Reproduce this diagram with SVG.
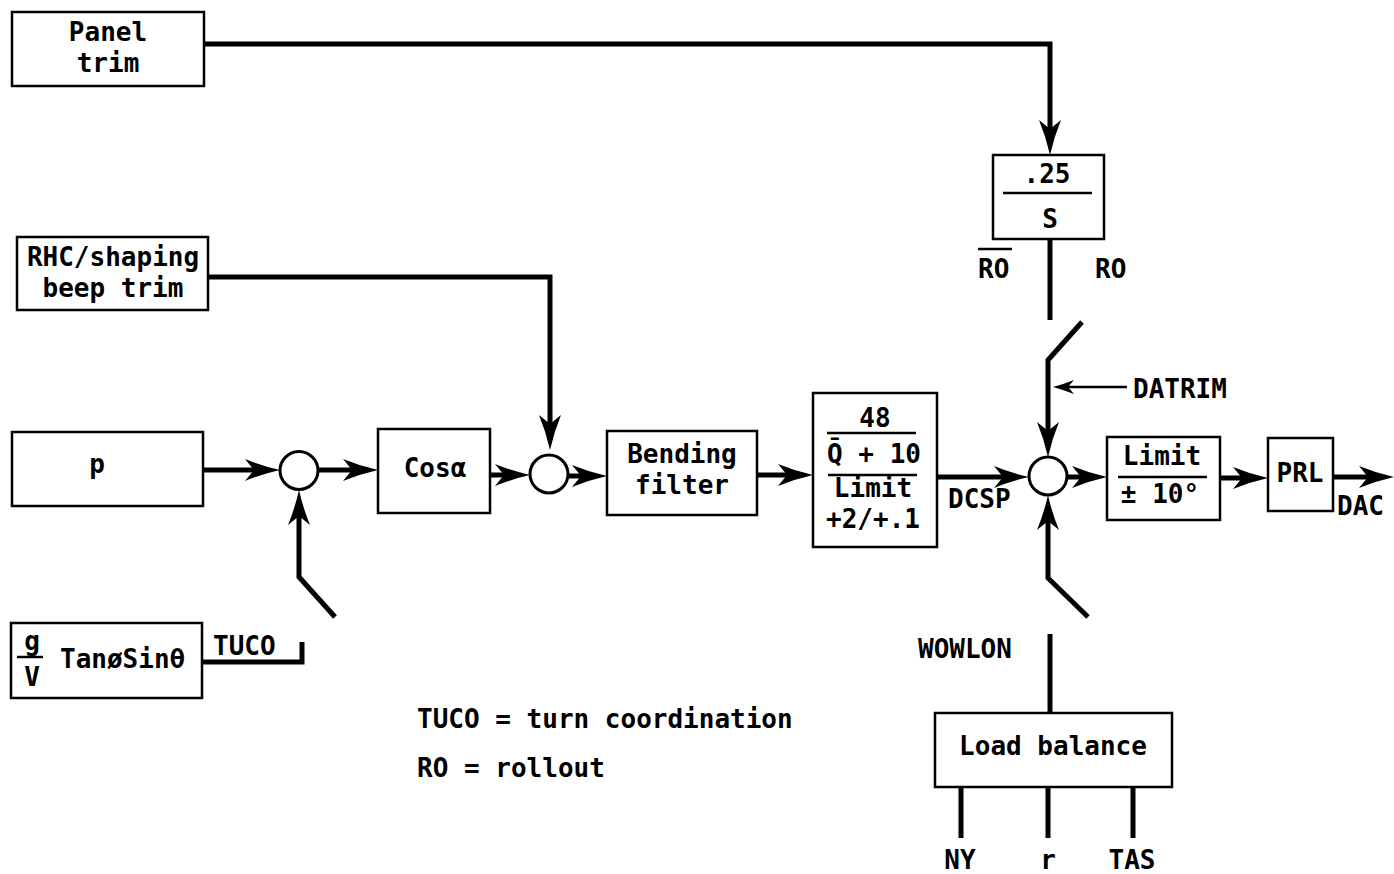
<svg xmlns="http://www.w3.org/2000/svg" width="1394" height="874" viewBox="0 0 1394 874">
<style>
.box{fill:#fff;stroke:#000;stroke-width:2.5}
.sum{fill:#fff;stroke:#000;stroke-width:3}
.ln{fill:none;stroke:#000;stroke-width:5;stroke-linejoin:miter}
.thin{fill:none;stroke:#000;stroke-width:2.5}
.bar{stroke:#000;stroke-width:2.5}
text{font-family:"DejaVu Sans Mono","Liberation Mono",monospace;font-weight:bold;font-size:26px;fill:#000}
.c{text-anchor:middle}
</style>
<defs>
<marker id="ah" markerUnits="userSpaceOnUse" viewBox="-24 -12 38 24" markerWidth="38" markerHeight="24" refX="0" refY="0" orient="auto">
<path d="M12,0 Q-6,-4 -23,-11 L-14,0 L-23,11 Q-6,4 12,0 Z" fill="#000"/>
</marker>
<marker id="ahs" markerUnits="userSpaceOnUse" viewBox="-14 -8 24 16" markerWidth="24" markerHeight="16" refX="0" refY="0" orient="auto">
<path d="M8,0 Q-3,-3 -13,-7 L-7,0 L-13,7 Q-3,3 8,0 Z" fill="#000"/>
</marker>
</defs>
<rect width="1394" height="874" fill="#fff"/>

<g id="connectors">
<path class="ln" d="M204,44 H1050 V143" marker-end="url(#ah)"/>
<path class="ln" d="M208,277 H550 V438" marker-end="url(#ah)"/>
<path class="ln" d="M203,470 H268" marker-end="url(#ah)"/>
<path class="ln" d="M318,470 H366" marker-end="url(#ah)"/>
<path class="ln" d="M202,662 H302 V642"/>
<path class="ln" d="M335,617 L299,577 V502" marker-end="url(#ah)"/>
<path class="ln" d="M490,475 H518" marker-end="url(#ah)"/>
<path class="ln" d="M568,476 H595" marker-end="url(#ah)"/>
<path class="ln" d="M757,475 H801" marker-end="url(#ah)"/>
<path class="ln" d="M937,477 H1017" marker-end="url(#ah)"/>
<path class="ln" d="M1067,477 H1095" marker-end="url(#ah)"/>
<path class="ln" d="M1220,478 H1256" marker-end="url(#ah)"/>
<path class="ln" d="M1333,477 H1382" marker-end="url(#ah)"/>
<path class="ln" d="M1050,239 V320"/>
<path class="ln" d="M1082,322 L1048,360 V445" marker-end="url(#ah)"/>
<path class="thin" d="M1127,387 H1061" marker-end="url(#ahs)"/>
<path class="ln" d="M1088,617 L1048,578 V507" marker-end="url(#ah)"/>
<path class="ln" d="M1050,634 V713"/>
<path class="ln" d="M961,787 V838"/>
<path class="ln" d="M1048,787 V838"/>
<path class="ln" d="M1133,787 V838"/>
</g>

<g id="panel-trim">
<rect class="box" x="12" y="12" width="192" height="74"/>
<text class="c" x="108" y="41">Panel</text>
<text class="c" x="108" y="72">trim</text>
</g>

<g id="rhc-trim">
<rect class="box" x="17" y="237" width="191" height="73"/>
<text class="c" x="113" y="266">RHC/shaping</text>
<text class="c" x="113" y="297">beep trim</text>
</g>

<g id="p-box">
<rect class="box" x="12" y="432" width="191" height="74"/>
<text class="c" x="97" y="473">p</text>
</g>

<g id="tuco-box">
<rect class="box" x="11" y="623" width="191" height="75"/>
<text class="c" x="32" y="650">g</text>
<line class="bar" x1="17" y1="657" x2="43" y2="657"/>
<text class="c" x="32" y="686">V</text>
<text x="60" y="668">TanøSinθ</text>
</g>

<g id="sum1"><circle class="sum" cx="299" cy="470.5" r="19"/></g>

<g id="cos-box">
<rect class="box" x="378" y="429" width="112" height="84"/>
<text class="c" x="435" y="477">Cosα</text>
</g>

<g id="sum2"><circle class="sum" cx="549" cy="474" r="19"/></g>

<g id="bending-filter">
<rect class="box" x="607" y="431" width="150" height="84"/>
<text class="c" x="682" y="463">Bending</text>
<text class="c" x="682" y="494">filter</text>
</g>

<g id="gain-box">
<rect class="box" x="813" y="393" width="124" height="154"/>
<text class="c" x="875" y="427">48</text>
<line class="bar" x1="827" y1="433" x2="916" y2="433"/>
<text class="c" x="874" y="463">Q̄ + 10</text>
<line class="bar" x1="828" y1="475" x2="917" y2="475"/>
<text class="c" x="873" y="497">Limit</text>
<text class="c" x="873" y="528">+2/+.1</text>
</g>

<g id="integrator">
<rect class="box" x="993" y="155" width="111" height="84"/>
<text class="c" x="1047" y="183">.25</text>
<line class="bar" x1="1003" y1="193" x2="1092" y2="193"/>
<text class="c" x="1050" y="228">S</text>
</g>

<g id="sum3"><circle class="sum" cx="1048" cy="476" r="19"/></g>

<g id="limit-box">
<rect class="box" x="1107" y="437" width="113" height="83"/>
<text class="c" x="1162" y="465">Limit</text>
<line class="bar" x1="1118" y1="477" x2="1207" y2="477"/>
<text class="c" x="1160" y="503">± 10°</text>
</g>

<g id="prl-box">
<rect class="box" x="1268" y="438" width="65" height="73"/>
<text class="c" x="1300" y="482">PRL</text>
</g>

<g id="load-balance">
<rect class="box" x="935" y="713" width="237" height="74"/>
<text class="c" x="1053" y="755">Load balance</text>
</g>

<g id="labels">
<text x="213" y="655">TUCO</text>
<text x="948" y="508">DCSP</text>
<line class="bar" x1="978" y1="249" x2="1012" y2="249"/>
<text x="978" y="278">RO</text>
<text x="1095" y="278">RO</text>
<text x="1133" y="398">DATRIM</text>
<text x="1337" y="515">DAC</text>
<text x="918" y="658">WOWLON</text>
<text class="c" x="960" y="869">NY</text>
<text class="c" x="1048" y="869">r</text>
<text class="c" x="1132" y="869">TAS</text>
<text x="417" y="728">TUCO = turn coordination</text>
<text x="417" y="777">RO = rollout</text>
</g>
</svg>
